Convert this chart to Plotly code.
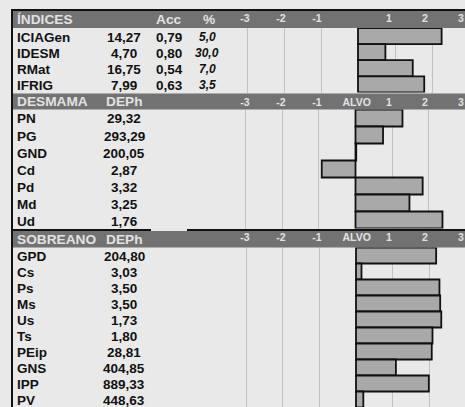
import plotly.graph_objects as go

W, H = 465, 407

# ---------------- data ----------------
idx_labels = ["ICIAGen", "IDESM", "RMat", "IFRIG"]
idx_values = ["14,27", "4,70", "16,75", "7,99"]
idx_acc = ["0,79", "0,80", "0,54", "0,63"]
idx_pct = ["5,0", "30,0", "7,0", "3,5"]
idx_bars = [2.26, 0.74, 1.48, 1.79]

des_labels = ["PN", "PG", "GND", "Cd", "Pd", "Md", "Ud"]
des_deph = ["29,32", "293,29", "200,05", "2,87", "3,32", "3,25", "1,76"]
des_bars = [1.28, 0.75, 0.02, -0.92, 1.83, 1.47, 2.37]

sob_labels = ["GPD", "Cs", "Ps", "Ms", "Us", "Ts", "PEip", "GNS", "IPP", "PV"]
sob_deph = ["204,80", "3,03", "3,50", "3,50", "1,73", "1,80", "28,81",
            "404,85", "889,33", "448,63"]
sob_bars = [2.19, 0.15, 2.28, 2.30, 2.33, 2.09, 2.07, 1.09, 1.99, 0.20]

tick_vals = [-3, -2, -1, 0, 1, 2, 3]
tick_text_first = ["-3", "-2", "-1", "", "1", "2", "3"]
tick_text_other = ["-3", "-2", "-1", "ALVO", "1", "2", "3"]

headers = [
    ("ÍNDICES", "", "Acc", "%"),
    ("DESMAMA", "DEPh", "", ""),
    ("SOBREANO", "DEPh", "", ""),
]

# ---------------- layout helpers ----------------
FONT = "Liberation Sans, Arial, Helvetica, sans-serif"
BG = "#e9e9e9"
BAND = "#727272"
BAND_TXT = "#e2e2e2"
BAR_FILL = "#a9a9a9"
GRID = "#c2c2c2"


def px_x(p):
    return p / W


def px_y(p):
    return 1 - p / H


# sections: rows top/bottom px, row height px, zero px, px per unit, band top/bottom px
sections = [
    dict(top=28.0, bottom=92.5, rowh=16.1, zero=358.0, unit=37.0, btop=11.0, bbot=28.0, stand=3),
    dict(top=109.5, bottom=228.5, rowh=17.0, zero=355.5, unit=36.7, btop=93.5, bbot=109.5, stand=0),
    dict(top=247.5, bottom=407.0, rowh=16.0, zero=356.0, unit=36.6, btop=231.0, bbot=247.5, stand=3),
]
bars_by_section = [idx_bars, des_bars, sob_bars]
labels_by_section = [idx_labels, des_labels, sob_labels]
values_by_section = [idx_values, des_deph, sob_deph]
ticktexts = [tick_text_first, tick_text_other, tick_text_other]

X_LEFT = 223.2  # left edge of bar area (px)

fig = go.Figure()
layout = dict(
    width=W, height=H,
    margin=dict(l=0, r=0, t=0, b=0),
    paper_bgcolor=BG, plot_bgcolor="rgba(0,0,0,0)",
    showlegend=False, bargap=0, hovermode=False,
    font=dict(family=FONT, color="#111111"),
)
annotations = []
shapes = []

for k, sec in enumerate(sections):
    n = k + 1
    xa = "x" if n == 1 else f"x{n}"
    ya = "y" if n == 1 else f"y{n}"
    la = f"x{n + 3}"
    nrows = len(bars_by_section[k])
    yrange_bottom = -0.5 + (sec["bottom"] - sec["top"]) / sec["rowh"]
    xr = [(X_LEFT - sec["zero"]) / sec["unit"], (W - sec["zero"]) / sec["unit"]]

    fig.add_trace(go.Bar(
        x=bars_by_section[k], y=list(range(nrows)), orientation="h", width=1,
        marker=dict(color=BAR_FILL, line=dict(color="#111111", width=1.8)),
        xaxis=xa, yaxis=ya, hoverinfo="skip",
    ))
    # invisible trace to activate the label axis
    fig.add_trace(go.Scatter(x=[0], y=[0], mode="markers", marker=dict(opacity=0),
                             xaxis=la, yaxis=ya, hoverinfo="skip"))

    layout[("xaxis" if n == 1 else f"xaxis{n}")] = dict(
        domain=[px_x(X_LEFT), 1], range=xr, anchor=ya, fixedrange=True,
        showgrid=True, gridcolor=GRID, gridwidth=1, zeroline=False,
        tickvals=tick_vals, showticklabels=False, ticks="", showline=False,
    )
    # label axis: labels of the header scale
    lab_vals = [v + (0.1 if v == 0 else 0) for v in tick_vals]
    layout[f"xaxis{n + 3}"] = dict(
        domain=[px_x(X_LEFT), 1], range=[(X_LEFT - 353) / 36, (W - 353) / 36],
        anchor=ya, overlaying=xa, side="top", fixedrange=True,
        showgrid=False, zeroline=False, showline=False, ticks="",
        tickvals=lab_vals, ticktext=ticktexts[k],
        tickfont=dict(family=FONT, size=10.5, color=BAND_TXT, weight="bold"),
        ticklabelstandoff=sec["stand"],
    )
    layout[("yaxis" if n == 1 else f"yaxis{n}")] = dict(
        domain=[px_y(sec["bottom"]), px_y(sec["top"])],
        range=[yrange_bottom, -0.5], visible=False, fixedrange=True,
    )

    # header band
    shapes.append(dict(type="rect", xref="paper", yref="paper",
                       x0=px_x(13), x1=1, y0=px_y(sec["bbot"]), y1=px_y(sec["btop"]),
                       fillcolor=BAND, line=dict(width=0), layer="below"))
    hy = px_y((sec["btop"] + sec["bbot"]) / 2)
    h = headers[k]
    hfont = dict(family=FONT, size=13.7, color=BAND_TXT, weight="bold")
    annotations.append(dict(text=h[0], x=px_x(15), y=hy, xref="paper", yref="paper",
                            xanchor="left", yanchor="middle", showarrow=False, font=hfont))
    if h[1]:
        annotations.append(dict(text=h[1], x=px_x(124), y=hy, xref="paper", yref="paper",
                                xanchor="center", yanchor="middle", showarrow=False, font=hfont))
    if h[2]:
        annotations.append(dict(text=h[2], x=px_x(168), y=hy, xref="paper", yref="paper",
                                xanchor="center", yanchor="middle", showarrow=False, font=hfont))
    if h[3]:
        annotations.append(dict(text=h[3], x=px_x(209), y=hy, xref="paper", yref="paper",
                                xanchor="center", yanchor="middle", showarrow=False, font=hfont))

    # row texts
    rfont = dict(family=FONT, size=13.5, color="#111111", weight="bold")
    for i in range(nrows):
        annotations.append(dict(text=labels_by_section[k][i], x=px_x(15), y=i, xref="paper", yref=ya,
                                xanchor="left", yanchor="middle", showarrow=False, font=rfont, yshift=-1))
        annotations.append(dict(text=values_by_section[k][i], x=px_x(124), y=i, xref="paper", yref=ya,
                                xanchor="center", yanchor="middle", showarrow=False, font=rfont, yshift=-1))
        if k == 0:
            annotations.append(dict(text=idx_acc[i], x=px_x(169), y=i, xref="paper", yref=ya,
                                    xanchor="center", yanchor="middle", showarrow=False, font=rfont, yshift=-1))
            annotations.append(dict(text=idx_pct[i], x=px_x(207), y=i, xref="paper", yref=ya,
                                    xanchor="center", yanchor="middle", showarrow=False, yshift=-1,
                                    font=dict(family=FONT, size=12, color="#111111",
                                              weight="bold", style="italic")))


# black border lines
def black_rect(x0, x1, y0, y1):
    shapes.append(dict(type="rect", xref="paper", yref="paper",
                       x0=px_x(x0), x1=px_x(x1), y0=px_y(y1), y1=px_y(y0),
                       fillcolor="#111111", line=dict(width=0), layer="above"))


black_rect(11, W, 9, 11)
black_rect(11, 13, 9, H)
black_rect(13, 151, 229, 231)
black_rect(187, W, 229, 231)

layout["annotations"] = annotations
layout["shapes"] = shapes
fig.update_layout(**layout)

fig.write_html(
    "out.html",
    config={"displayModeBar": False, "staticPlot": True},
    post_script="document.body.style.margin='0';document.body.style.overflow='hidden';",
)
